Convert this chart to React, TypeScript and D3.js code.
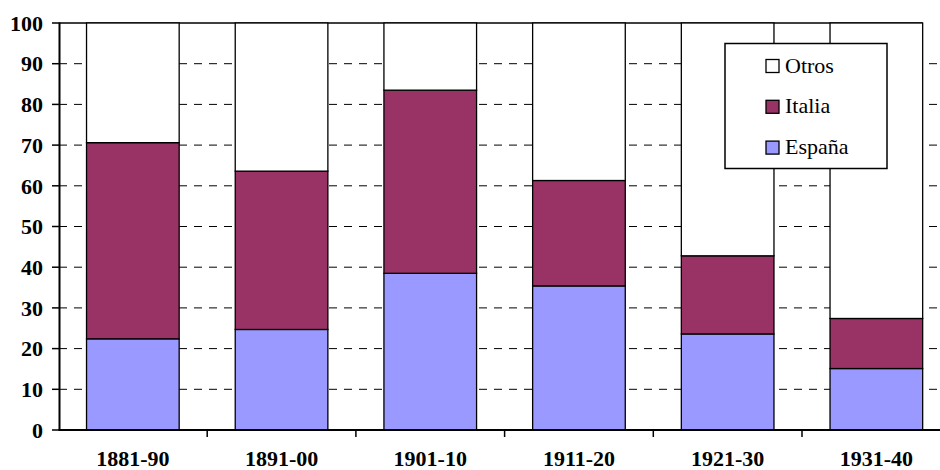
import React from "react";
import * as d3 from "d3";

const categories = ["1881-90", "1891-00", "1901-10", "1911-20", "1921-30", "1931-40"];
const espana = [22.4, 24.7, 38.5, 35.4, 23.6, 15.1];
const italia = [48.2, 38.9, 45.0, 25.9, 19.2, 12.3];
const otros = espana.map((e, i) => 100 - e - italia[i]);
const yTicks = [0, 10, 20, 30, 40, 50, 60, 70, 80, 90, 100];
const seriesKeys = ["España", "Italia", "Otros"];
const colors: Record<string, string> = { "España": "#9999FF", "Italia": "#993366", "Otros": "#FFFFFF" };
const legendOrder = ["Otros", "Italia", "España"];

export default function App() {
  const W = 940, H = 470;
  const x0 = 58.5, step = 148.7;
  const x = d3.scaleBand<string>().domain(categories).range([x0, x0 + step * categories.length]).paddingInner(0.377).paddingOuter(0.1885);
  const y = d3.scaleLinear().domain([0, 100]).range([430, 23]);
  const rows = categories.map((c, i) => ({ cat: c, "España": espana[i], "Italia": italia[i], "Otros": otros[i] }));
  const stack = d3.stack<any>().keys(seriesKeys)(rows);
  const fontStyle = { fontFamily: '"Liberation Serif"' };
  const lastRight = (x(categories[categories.length - 1]) ?? 0) + x.bandwidth();
  const boundaries = d3.range(categories.length + 1).map((k) => x0 + k * x.step());

  return (
    <svg width={W} height={H} style={{ position: "absolute", left: 0, top: 0, background: "#fff" }}>
      <rect width={W} height={H} fill="#fff" />
      {yTicks.filter((t) => t > 0 && t < 100).map((t) => (
        <line key={t} x1={59} x2={W} y1={y(t)} y2={y(t)} stroke="#000" strokeWidth={1} strokeDasharray="8,7" />
      ))}
      <line x1={59} x2={lastRight} y1={y(100)} y2={y(100)} stroke="#000" strokeWidth={1.5} />
      {stack.map((s) => (
        <g key={s.key}>
          {s.map((d, i) => (
            <rect key={i} x={x(categories[i])} width={x.bandwidth()} y={y(d[1])} height={y(d[0]) - y(d[1])}
              fill={colors[s.key]} stroke="#000" strokeWidth={1.3} />
          ))}
        </g>
      ))}
      <line x1={59.5} x2={59.5} y1={y(100) - 0.5} y2={y(0) + 0.5} stroke="#000" strokeWidth={2} />
      {yTicks.map((t) => (
        <g key={t}>
          <line x1={52} x2={59} y1={y(t)} y2={y(t)} stroke="#000" strokeWidth={1.5} />
          <text x={43} y={y(t)} dy="0.35em" textAnchor="end" style={fontStyle} fontSize={22} fontWeight="bold">{t}</text>
        </g>
      ))}
      <line x1={58.5} x2={W} y1={430} y2={430} stroke="#000" strokeWidth={2} />
      {boundaries.slice(1).map((b, k) => (
        <line key={k} x1={b} x2={b} y1={430} y2={437} stroke="#000" strokeWidth={1.5} />
      ))}
      {categories.map((c) => (
        <text key={c} x={(x(c) ?? 0) + x.bandwidth() / 2} y={466} textAnchor="middle" style={fontStyle} fontSize={22} fontWeight="bold">{c}</text>
      ))}
      <rect x={725} y={43.5} width={162} height={125} fill="#fff" stroke="#000" strokeWidth={1.5} />
      {legendOrder.map((k, i) => {
        const sy = 59.5 + i * 40.8;
        return (
          <g key={k}>
            <rect x={766} y={sy} width={13} height={13} fill={colors[k]} stroke="#000" strokeWidth={1.3} />
            <text x={785} y={sy + 13} style={fontStyle} fontSize={22}>{k}</text>
          </g>
        );
      })}
    </svg>
  );
}
